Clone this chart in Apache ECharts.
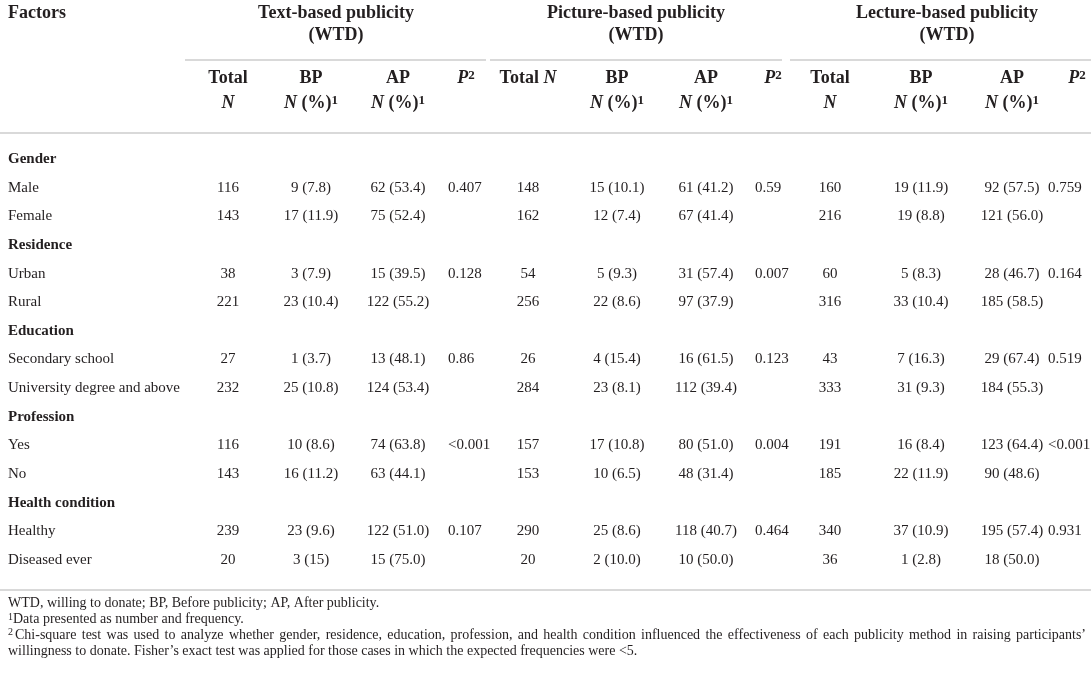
<!DOCTYPE html>
<html>
<head>
<meta charset="utf-8">
<script src="https://cdn.jsdelivr.net/npm/echarts@6/dist/echarts.min.js"></script>
<style>
  html, body { margin: 0; padding: 0; background: #fff; }
  #table { width: 1091px; height: 675px; }
</style>
</head>
<body>
<div id="table"></div>
<script>
// factors and their levels, in table row order
const factors = ['Gender', 'Residence', 'Education', 'Profession', 'Health condition']
const levels = [
  ['Male', 'Female'],
  ['Urban', 'Rural'],
  ['Secondary school', 'University degree and above'],
  ['Yes', 'No'],
  ['Healthy', 'Diseased ever']
]

// Text-based publicity (WTD)
const textTotal = [116, 143, 38, 221, 27, 232, 116, 143, 239, 20]
const textBP = ['9 (7.8)', '17 (11.9)', '3 (7.9)', '23 (10.4)', '1 (3.7)', '25 (10.8)', '10 (8.6)', '16 (11.2)', '23 (9.6)', '3 (15)']
const textAP = ['62 (53.4)', '75 (52.4)', '15 (39.5)', '122 (55.2)', '13 (48.1)', '124 (53.4)', '74 (63.8)', '63 (44.1)', '122 (51.0)', '15 (75.0)']
const textP = ['0.407', '0.128', '0.86', '<0.001', '0.107']

// Picture-based publicity (WTD)
const pictureTotal = [148, 162, 54, 256, 26, 284, 157, 153, 290, 20]
const pictureBP = ['15 (10.1)', '12 (7.4)', '5 (9.3)', '22 (8.6)', '4 (15.4)', '23 (8.1)', '17 (10.8)', '10 (6.5)', '25 (8.6)', '2 (10.0)']
const pictureAP = ['61 (41.2)', '67 (41.4)', '31 (57.4)', '97 (37.9)', '16 (61.5)', '112 (39.4)', '80 (51.0)', '48 (31.4)', '118 (40.7)', '10 (50.0)']
const pictureP = ['0.59', '0.007', '0.123', '0.004', '0.464']

// Lecture-based publicity (WTD)
const lectureTotal = [160, 216, 60, 316, 43, 333, 191, 185, 340, 36]
const lectureBP = ['19 (11.9)', '19 (8.8)', '5 (8.3)', '33 (10.4)', '7 (16.3)', '31 (9.3)', '16 (8.4)', '22 (11.9)', '37 (10.9)', '1 (2.8)']
const lectureAP = ['92 (57.5)', '121 (56.0)', '28 (46.7)', '185 (58.5)', '29 (67.4)', '184 (55.3)', '123 (64.4)', '90 (48.6)', '195 (57.4)', '18 (50.0)']
const lectureP = ['0.759', '0.164', '0.519', '<0.001', '0.931']

const groupTitles = ['Text-based publicity', 'Picture-based publicity', 'Lecture-based publicity']
const footnotes = [
  'WTD, willing to donate; BP, Before publicity; AP, After publicity.',
  'Data presented as number and frequency.',
  'Chi-square test was used to analyze whether gender, residence, education, profession, and health condition influenced the effectiveness of each publicity method in raising participants\u2019',
  'willingness to donate. Fisher\u2019s exact test was applied for those cases in which the expected frequencies were <5.'
]

// ---- layout / style ----
const W = 1091
const FAM = '"Liberation Serif", "DejaVu Serif", serif'
const INK = '#231f20'
const RULE = '#cdcdcd'
const REG = '15px ' + FAM
const BOLD = 'bold 15px ' + FAM
const HB = 'bold 18px ' + FAM
const HBI = 'italic bold 18px ' + FAM
const HSUP = 'bold 13px ' + FAM
const FOOT = '14px ' + FAM
const FSUP = '10px ' + FAM

// column x (total, BP, AP centers; P left edge) and header centers per method
const methods = [
  { total: textTotal, bp: textBP, ap: textAP, p: textP, cols: [228, 311, 398, 448], pHead: 466, center: 336, line: [185, 486] },
  { total: pictureTotal, bp: pictureBP, ap: pictureAP, p: pictureP, cols: [528, 617, 706, 755], pHead: 773, center: 636, line: [490, 782] },
  { total: lectureTotal, bp: lectureBP, ap: lectureAP, p: lectureP, cols: [830, 921, 1012, 1048], pHead: 1077, center: 947, line: [790, W] }
]

// rows of the body
const rowNames = []
const groupRow = []
const levelRow = []
const firstLevelRow = []
factors.forEach((f, i) => {
  groupRow.push(rowNames.length)
  rowNames.push(f)
  firstLevelRow.push(rowNames.length)
  levels[i].forEach(l => {
    levelRow.push(rowNames.length)
    rowNames.push(l)
  })
})

// cells: [x, row, text, kind]
const cells = []
rowNames.forEach((name, r) => {
  cells.push([8, r, name, groupRow.indexOf(r) >= 0 ? 'group' : 'label'])
})
methods.forEach(m => {
  levelRow.forEach((r, k) => {
    cells.push([m.cols[0], r, String(m.total[k]), 'num'])
    cells.push([m.cols[1], r, m.bp[k], 'num'])
    cells.push([m.cols[2], r, m.ap[k], 'num'])
  })
  firstLevelRow.forEach((r, f) => {
    cells.push([m.cols[3], r, m.p[f], 'p'])
  })
})

function txt(x, y, text, font, align, rich) {
  const style = { text: text, font: font, fill: INK, align: align, verticalAlign: 'middle', textAlign: align, textVerticalAlign: 'middle' }
  if (rich) style.rich = rich
  return { type: 'text', x: x, y: y, style: style }
}
function rule(x1, x2, y) {
  return { type: 'line', shape: { x1: x1, y1: y, x2: x2, y2: y }, style: { stroke: RULE, lineWidth: 1.5 } }
}

const headRich = {
  b: { font: HB, fill: INK },
  bi: { font: HBI, fill: INK },
  sup: { font: HSUP, fill: INK, verticalAlign: 'top' }
}

const graphics = []
graphics.push(txt(8, 13, 'Factors', HB, 'left'))
methods.forEach((m, i) => {
  graphics.push(txt(m.center, 13, groupTitles[i], HB, 'center'))
  graphics.push(txt(m.center, 35, '(WTD)', HB, 'center'))
  graphics.push(rule(m.line[0], m.line[1], 60))
  if (i === 1) {
    graphics.push(txt(m.cols[0], 78, '{b|Total} {bi|N}', HB, 'center', headRich))
  } else {
    graphics.push(txt(m.cols[0], 78, '{b|Total}', HB, 'center', headRich))
    graphics.push(txt(m.cols[0], 103, '{bi|N}', HB, 'center', headRich))
  }
  graphics.push(txt(m.cols[1], 78, '{b|BP}', HB, 'center', headRich))
  graphics.push(txt(m.cols[1], 103, '{bi|N} {b|(%)}{sup|1}', HB, 'center', headRich))
  graphics.push(txt(m.cols[2], 78, '{b|AP}', HB, 'center', headRich))
  graphics.push(txt(m.cols[2], 103, '{bi|N} {b|(%)}{sup|1}', HB, 'center', headRich))
  graphics.push(txt(m.pHead, 78, '{bi|P}{sup|2}', HB, 'center', headRich))
})
graphics.push(rule(0, W, 133))
graphics.push(rule(0, W, 590))

// footnotes
const footRich = { n: { font: FOOT, fill: INK }, sup: { font: FSUP, fill: INK, verticalAlign: 'top' } }
graphics.push(txt(8, 603, footnotes[0], FOOT, 'left'))
graphics.push(txt(8, 619, '{sup|1}{n|' + footnotes[1] + '}', FOOT, 'left', footRich))
graphics.push(txt(8, 632, '2', FSUP, 'left'))
// first line of the last note is justified to the full width
const ctx = document.createElement('canvas').getContext('2d')
ctx.font = FOOT
const words = footnotes[2].split(' ')
const widths = words.map(w => ctx.measureText(w).width)
const gap = (1086 - 15 - widths.reduce((a, b) => a + b, 0)) / (words.length - 1)
let wx = 15
words.forEach((w, i) => {
  graphics.push(txt(wx, 635, w, FOOT, 'left'))
  wx += widths[i] + gap
})
graphics.push(txt(8, 651, footnotes[3], FOOT, 'left'))

const chart = echarts.init(document.getElementById('table'), null, { renderer: 'canvas' })
chart.setOption({
  backgroundColor: '#fff',
  animation: false,
  grid: { left: 0, right: 0, top: 144.7, height: 429.6 },
  xAxis: { type: 'value', min: 0, max: W, show: false },
  yAxis: { type: 'category', data: rowNames, inverse: true, show: false },
  graphic: { elements: graphics },
  series: [{
    type: 'custom',
    clip: false,
    encode: { x: 0, y: 1 },
    data: cells,
    renderItem: function (params, api) {
      const c = cells[params.dataIndex]
      const pt = api.coord([c[0], c[1]])
      const align = c[3] === 'num' ? 'center' : 'left'
      return {
        type: 'text',
        x: pt[0],
        y: pt[1],
        style: {
          text: c[2],
          font: c[3] === 'group' ? BOLD : REG,
          fill: INK,
          align: align,
          verticalAlign: 'middle',
          textAlign: align,
          textVerticalAlign: 'middle'
        }
      }
    }
  }]
})
</script>
</body>
</html>
